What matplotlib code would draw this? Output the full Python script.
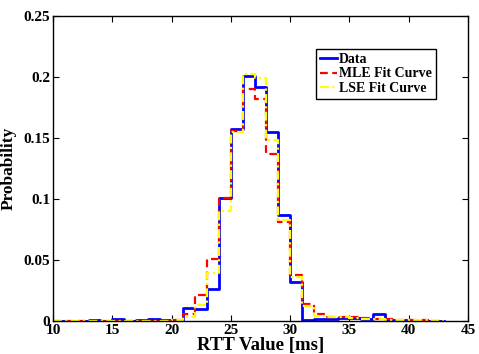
import matplotlib
matplotlib.use("Agg")
import matplotlib.pyplot as plt
import numpy as np
from matplotlib.ticker import FuncFormatter

# bin edges (1 ms wide) from 10 to 43 ms
edges = np.arange(10, 44)

data_p = [0, 0, 0, 0.001, 0, 0.0015, 0, 0.0005, 0.0015, 0.0008, 0.0005,
          0.011, 0.010, 0.026, 0.1005, 0.157, 0.201, 0.1915, 0.155, 0.087,
          0.032, 0.001, 0.002, 0.002, 0.0025, 0.0025, 0.002, 0.0055, 0.001,
          0.0005, 0, 0, 0]
mle_p = [0, 0, 0, 0, 0, 0, 0, 0, 0, 0, 0.001,
         0.006, 0.021, 0.051, 0.1005, 0.156, 0.190, 0.182, 0.137, 0.081,
         0.038, 0.014, 0.0055, 0.0035, 0.003, 0.003, 0.0025, 0.002, 0.0015,
         0.001, 0.0005, 0.0005, 0.0003]
lse_p = [0, 0, 0, 0, 0, 0, 0, 0, 0, 0, 0.0005,
         0.003, 0.013, 0.039, 0.090, 0.155, 0.2025, 0.199, 0.148, 0.083,
         0.036, 0.012, 0.004, 0.003, 0.003, 0.0025, 0.002, 0.0015, 0.001,
         0.001, 0.0008, 0.0005, 0.0003]

plt.rcParams['font.family'] = ['Liberation Serif', 'DejaVu Serif']
plt.rcParams['font.weight'] = 'bold'

fig = plt.figure(figsize=(4.79, 3.54), dpi=100)
ax = fig.add_axes([53/479, 1 - 321/354, (468-53)/479, (321-16)/354])

def steps(v):
    return list(v) + [v[-1]]

ax.step(edges, steps(data_p), where='post', color='#0000ff', lw=2.0, label='Data')
ax.step(edges, steps(mle_p), where='post', color='#ff0000', lw=1.6,
        linestyle=(0, (3.5, 2)), label='MLE Fit Curve')
ax.step(edges, steps(lse_p), where='post', color='#ffff00', lw=1.6,
        linestyle=(0, (4, 1.5, 1, 1.5)), label='LSE Fit Curve')

ax.set_xlim(10, 45)
ax.set_ylim(0, 0.25)
ax.set_xticks(np.arange(10, 46, 5))
ax.set_yticks(np.arange(0, 0.26, 0.05))
ax.yaxis.set_major_formatter(FuncFormatter(lambda v, p: '%g' % round(v, 3)))
ax.tick_params(direction='in', top=True, right=True, length=4, width=0.8,
               labelsize=11, pad=2)
for lab in ax.get_xticklabels() + ax.get_yticklabels():
    lab.set_fontweight('bold')
for s in ax.spines.values():
    s.set_linewidth(1.0)

ax.set_xlabel('RTT Value [ms]', fontsize=13.5, fontweight='bold')
ax.set_ylabel('Probability', fontsize=12.5, fontweight='bold')
ax.xaxis.set_label_coords(0.5, -0.052)
ax.yaxis.set_label_coords(-0.087, 0.5)

leg = ax.legend(loc='upper right', bbox_to_anchor=(0.922, 0.893),
                borderaxespad=0, handlelength=1.2, handletextpad=0.15,
                borderpad=0.3, labelspacing=0.12, fancybox=False,
                framealpha=1, edgecolor='black',
                prop={'weight': 'bold', 'size': 10})
leg.get_frame().set_linewidth(1.0)

fig.savefig('out.png', dpi=100)
